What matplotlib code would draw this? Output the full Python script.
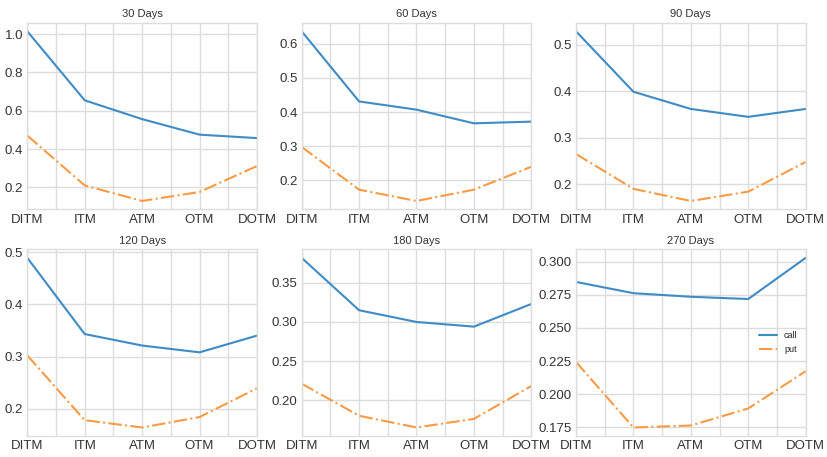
import matplotlib
matplotlib.use("Agg")
import matplotlib.pyplot as plt
import numpy as np

plt.style.use("seaborn-v0_8-whitegrid")
plt.rcParams["font.family"] = ["Liberation Sans", "DejaVu Sans"]

# moneyness buckets
buckets = ["DITM", "ITM", "ATM", "OTM", "DOTM"]
titles = ["30 Days", "60 Days", "90 Days", "120 Days", "180 Days", "270 Days"]

# values
call_30 = [1.014, 0.654, 0.556, 0.475, 0.457]
put_30 = [0.470, 0.210, 0.129, 0.176, 0.311]
call_60 = [0.636, 0.431, 0.407, 0.367, 0.372]
put_60 = [0.298, 0.173, 0.140, 0.173, 0.240]
call_90 = [0.529, 0.399, 0.362, 0.345, 0.362]
put_90 = [0.265, 0.190, 0.164, 0.184, 0.248]
call_120 = [0.489, 0.343, 0.321, 0.308, 0.340]
put_120 = [0.302, 0.178, 0.164, 0.184, 0.239]
call_180 = [0.382, 0.315, 0.300, 0.294, 0.323]
put_180 = [0.221, 0.180, 0.165, 0.176, 0.218]
call_270 = [0.2848, 0.2763, 0.2736, 0.2719, 0.303]
put_270 = [0.2243, 0.1748, 0.1763, 0.1892, 0.2173]

calls = [call_30, call_60, call_90, call_120, call_180, call_270]
puts = [put_30, put_60, put_90, put_120, put_180, put_270]

fig, axes = plt.subplots(2, 3, figsize=(8.28, 4.57), dpi=100)
x = np.arange(len(buckets))

for i, ax in enumerate(axes.flat):
    ax.plot(x, calls[i], color="#3f8bc6", lw=1.5, label="call")
    ax.plot(x, puts[i], color="#f99a45", lw=1.5, ls="-.", label="put")
    ax.set_title(titles[i], fontsize=8, color="#333333", pad=4)
    ax.set_xlim(0, 4)
    ax.set_xticks(x)
    ax.set_xticklabels(buckets)
    ax.set_xticks(x[:-1] + 0.5, minor=True)
    ax.grid(True, which="both", axis="x", color="#dddddd", lw=1)
    ax.grid(True, which="major", axis="y", color="#dddddd", lw=1)
    ax.tick_params(axis="both", labelsize=9.5, colors="#333333", length=0, pad=3)
    ax.tick_params(axis="x", which="minor", length=0)
    for s in ax.spines.values():
        s.set_visible(True)
        s.set_color("#dddddd")

axes[1, 2].legend(loc="center right", fontsize=6.5, frameon=False)

fig.subplots_adjust(left=0.033, right=0.973, top=0.95, bottom=0.046,
                    wspace=0.195, hspace=0.214)
fig.savefig("out.png", dpi=100)
